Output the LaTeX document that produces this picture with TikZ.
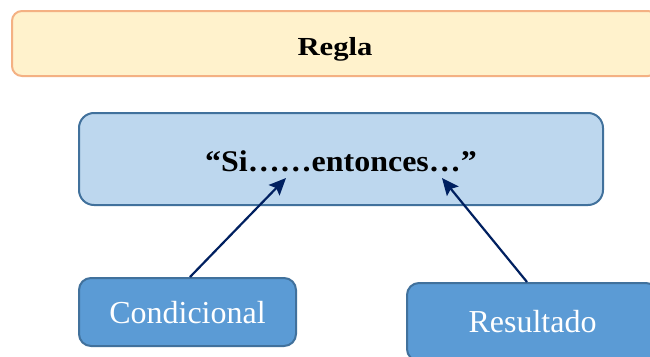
\documentclass[tikz,border=0pt]{standalone}
\usepackage{fontspec}
\setmainfont{Liberation Serif}
\usetikzlibrary{arrows.meta}
\definecolor{reglafill}{HTML}{FFF2CC}
\definecolor{reglaline}{HTML}{F4B183}
\definecolor{lightblue}{HTML}{BDD7EE}
\definecolor{midblue}{HTML}{5B9BD5}
\definecolor{boxline}{HTML}{41719C}
\definecolor{navy}{HTML}{002060}

\begin{document}
\begin{tikzpicture}[x=1pt,y=-1pt,
  box/.style={draw=boxline, line width=2pt, rounded corners=#1,
    inner sep=0pt, text depth=0pt},
  box/.default=12pt,
  link/.style={draw=navy, line width=2.2pt,
    -{Stealth[length=17pt,width=15pt,inset=3pt]}},
  bigtext/.style={font=\fontsize{32}{36}\selectfont, text=white}
]
\clip (0,0) rectangle (650,356);
\fill[white] (0,0) rectangle (650,356);

% title banner
\node[box=10pt, draw=reglaline, fill=reglafill, minimum width=646pt,
  minimum height=65pt, text height=23pt,
  font=\fontsize{26}{30}\selectfont\bfseries] (regla) at (335,43.5)
  {\scalebox{1.18}[1]{Regla}};

% rule box
\node[box=15pt, fill=lightblue, minimum width=524pt, minimum height=92pt,
  text height=24pt, font=\fontsize{30}{34}\selectfont\bfseries]
  (si) at (341,159) {\scalebox{1.065}[1]{“Si……entonces…”}};

% parts of the rule
\node[box, fill=midblue, minimum width=217pt, minimum height=68pt,
  text height=23pt, bigtext] (cond) at (187.5,312) {Condicional};
\node[box, fill=midblue, minimum width=251pt, minimum height=78pt,
  text height=21.2pt, bigtext] (res) at (532.5,322) {Resultado};

% arrow targets under the text
\coordinate (t1) at (286,178);
\coordinate (t2) at (442,178);
\coordinate (s1) at (190,277);
\coordinate (s2) at (527,282);

\draw[link] (s1) -- (t1);
\draw[link] (s2) -- (t2);
\end{tikzpicture}
\end{document}
